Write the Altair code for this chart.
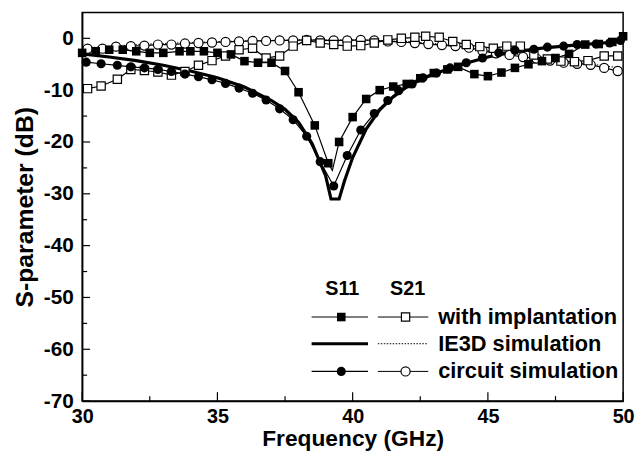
import altair as alt
import pandas as pd

# ---------------- data ----------------
# S11, with implantation (filled squares)
s11_impl_x = [30.0, 30.5, 31.0, 31.5, 32.0, 32.5, 33.0, 33.6, 34.0, 34.5, 35.0, 35.5,
              36.0, 36.5, 37.0, 37.5, 38.0, 38.6, 39.1, 39.25, 39.5, 40.0, 40.5, 41.0,
              41.5, 42.0, 42.5, 43.0, 43.5, 43.9, 44.5, 45.0, 45.5, 46.0, 46.5, 47.0,
              47.5, 48.0, 48.6, 49.1, 49.6, 50.0]
s11_impl_y = [-2.8, -2.5, -2.2, -2.2, -2.5, -2.8, -2.8, -2.5, -2.5, -2.5, -2.8, -3.1,
              -4.4, -4.7, -4.7, -6.3, -10.4, -16.8, -24.1, -25.5, -20.0, -15.2, -11.7, -10.0,
              -9.3, -8.8, -7.7, -6.7, -6.0, -5.5, -6.9, -7.3, -6.6, -5.7, -5.0, -4.4,
              -3.8, -3.0, -1.2, -1.1, -0.7, 0.4]
s11_impl_nomarker = [39.25]

# S21, with implantation (open squares)
s21_impl_x = [30.2, 30.7, 31.3, 31.8, 32.3, 32.8, 33.3, 33.8, 34.3, 34.8, 35.3, 35.8,
              36.3, 36.8, 37.3, 37.8, 38.3, 38.8, 39.3, 39.8, 40.3, 40.8, 41.3, 41.8,
              42.3, 42.7, 43.2, 43.7, 44.2, 44.7, 45.2, 45.7, 46.2, 46.7, 47.2, 47.7,
              48.2, 48.7, 49.3, 49.8]
s21_impl_y = [-9.7, -9.2, -7.9, -6.0, -6.2, -6.5, -7.1, -6.4, -5.2, -4.3, -3.4, -2.2,
              -1.9, -3.8, -3.4, -1.5, -0.4, -0.9, -1.2, -1.5, -1.4, -0.9, -0.3, 0.0,
              0.2, 0.4, 0.2, -0.6, -1.2, -1.6, -1.9, -1.5, -1.5, -3.2, -4.0, -4.4,
              -4.5, -4.3, -3.4, -3.4]

# S11, IE3D simulation (thick line)
s11_ie3d_x = [30.0, 31.0, 32.0, 33.0, 34.0, 35.0, 36.0, 37.0, 37.5, 38.0, 38.5, 39.0,
              39.2, 39.5, 39.7, 40.0, 40.5, 41.0, 41.5, 42.0, 42.5, 43.0, 44.0, 45.0,
              46.0, 47.0, 48.0, 49.0, 50.0]
s11_ie3d_y = [-3.0, -3.6, -4.3, -5.2, -6.3, -7.6, -9.4, -12.0, -13.7, -16.2, -20.3, -26.5,
              -31.0, -31.0, -27.5, -23.0, -17.5, -13.8, -11.3, -9.4, -8.0, -6.9, -5.1, -3.6,
              -2.6, -1.9, -1.4, -1.0, -0.6]

# S21, IE3D simulation (dotted line)
s21_ie3d_x = [30.0, 32.0, 34.0, 36.0, 38.0, 40.0, 42.0, 43.0, 44.0, 45.0, 46.0, 47.0,
              48.0, 49.0, 50.0]
s21_ie3d_y = [-1.9, -1.2, -0.8, -0.5, -0.3, -0.3, -0.6, -1.0, -1.6, -2.4, -3.1, -3.8,
              -4.5, -5.1, -5.8]

# S11, circuit simulation (filled circles)
s11_circ_x = [30.15, 30.7, 31.3, 31.8, 32.3, 32.8, 33.3, 33.8, 34.3, 34.8, 35.3, 35.8,
              36.3, 36.8, 37.3, 37.8, 38.3, 38.8, 39.3, 39.8, 40.3, 40.8, 41.3, 41.7,
              42.2, 42.6, 43.1, 43.6, 44.2, 44.8, 45.4, 46.0, 46.7, 47.2, 47.8, 48.3,
              49.0, 49.5, 49.9]
s11_circ_y = [-4.6, -4.9, -5.2, -5.5, -5.7, -6.0, -6.4, -6.9, -7.4, -8.0, -8.7, -9.6,
              -10.6, -11.9, -13.6, -15.7, -18.9, -23.8, -28.5, -22.6, -17.7, -14.5, -12.0, -10.1,
              -8.8, -7.6, -6.7, -5.7, -4.7, -3.8, -2.8, -2.3, -2.1, -1.7, -1.5, -1.2,
              -1.1, -0.9, -0.4]

# S21, circuit simulation (open circles)
s21_circ_x = [30.2, 30.75, 31.25, 31.8, 32.3, 32.8, 33.3, 33.8, 34.3, 34.8, 35.3, 35.8,
              36.3, 36.8, 37.3, 37.8, 38.3, 38.8, 39.3, 39.8, 40.3, 40.8, 41.3, 41.8,
              42.3, 42.8, 43.3, 43.8, 44.3, 44.8, 45.3, 45.8, 46.3, 46.8, 47.3, 47.8,
              48.3, 48.8, 49.3, 49.8]
s21_circ_y = [-2.0, -2.0, -1.6, -1.5, -1.4, -1.2, -1.2, -1.0, -0.9, -0.8, -0.7, -0.6,
              -0.5, -0.5, -0.4, -0.4, -0.3, -0.4, -0.4, -0.4, -0.3, -0.4, -0.6, -0.7,
              -0.9, -1.1, -1.3, -1.5, -1.8, -2.4, -2.9, -3.2, -3.6, -3.9, -4.3, -4.7,
              -4.9, -5.1, -5.7, -6.3]

x_ticks_major = [30, 35, 40, 45, 50]
x_ticks_minor = [32.5, 37.5, 42.5, 47.5]
y_ticks_major = [0, -10, -20, -30, -40, -50, -60, -70]
y_ticks_minor = [-5, -15, -25, -35, -45, -55, -65]

legend_header = ["S11", "S21"]
legend_rows = ["with implantation", "IE3D simulation", "circuit simulation"]

# ---------------- layout ----------------
W, H = 547, 393
FONT = "Liberation Sans"

xs = alt.Scale(domain=[30, 50], nice=False, zero=False)
ys = alt.Scale(domain=[-70, 5], nice=False, zero=False)

xax = alt.Axis(values=x_ticks_major, title="Frequency (GHz)", ticks=False, grid=False,
               labelFont=FONT, labelFontSize=20, labelFontWeight="bold", labelColor="black",
               labelPadding=6, labelFlush=False, titleFont=FONT, titleFontSize=23,
               titleFontWeight="bold", titleColor="black", titlePadding=1,
               domainColor="black", domainWidth=1.5, labelExpr="'' + datum.value")
yax = alt.Axis(values=y_ticks_major, title="S-parameter (dB)", ticks=False, grid=False,
               labelFont=FONT, labelFontSize=21, labelFontWeight="bold", labelColor="black",
               labelPadding=9, labelFlush=False, titleFont=FONT, titleFontSize=25,
               titleFontWeight="bold", titleColor="black", titlePadding=6,
               domainColor="black", domainWidth=1.5, labelExpr="'' + datum.value")


def df_of(xv, yv):
    return pd.DataFrame({"f": xv, "s": yv})


def X():
    return alt.X("f:Q", scale=xs, axis=xax)


def Y():
    return alt.Y("s:Q", scale=ys, axis=yax)


layers = []

# inward ticks
layers.append(alt.Chart(pd.DataFrame({"f": x_ticks_major})).mark_rule(color="black", strokeWidth=1.2)
              .encode(x=X(), y=alt.value(H), y2=alt.value(H - 9)))
layers.append(alt.Chart(pd.DataFrame({"f": x_ticks_minor})).mark_rule(color="black", strokeWidth=1.2)
              .encode(x=X(), y=alt.value(H), y2=alt.value(H - 5)))
layers.append(alt.Chart(pd.DataFrame({"s": y_ticks_major})).mark_rule(color="black", strokeWidth=1.2)
              .encode(y=Y(), x=alt.value(0), x2=alt.value(8)))
layers.append(alt.Chart(pd.DataFrame({"s": y_ticks_minor})).mark_rule(color="black", strokeWidth=1.2)
              .encode(y=Y(), x=alt.value(0), x2=alt.value(5)))

# lines
layers.append(alt.Chart(df_of(s11_ie3d_x, s11_ie3d_y)).mark_line(color="black", strokeWidth=3.2)
              .encode(x=X(), y=Y()))
layers.append(alt.Chart(df_of(s21_ie3d_x, s21_ie3d_y)).mark_line(color="black", strokeWidth=1, strokeDash=[1.5, 1.5])
              .encode(x=X(), y=Y()))
for xv, yv in [(s21_circ_x, s21_circ_y), (s21_impl_x, s21_impl_y),
               (s11_impl_x, s11_impl_y), (s11_circ_x, s11_circ_y)]:
    layers.append(alt.Chart(df_of(xv, yv)).mark_line(color="black", strokeWidth=1.2)
                  .encode(x=X(), y=Y()))

# markers
layers.append(alt.Chart(df_of(s21_circ_x, s21_circ_y)).mark_point(
    shape="circle", filled=True, fill="white", stroke="black", strokeWidth=1.2, size=85, opacity=1)
    .encode(x=X(), y=Y()))
layers.append(alt.Chart(df_of(s21_impl_x, s21_impl_y)).mark_point(
    shape="square", filled=True, fill="white", stroke="black", strokeWidth=1.2, size=70, opacity=1)
    .encode(x=X(), y=Y()))
impl_df = df_of(s11_impl_x, s11_impl_y)
impl_df = impl_df[~impl_df["f"].isin(s11_impl_nomarker)]
layers.append(alt.Chart(impl_df).mark_point(
    shape="square", filled=True, color="black", size=75, opacity=1)
    .encode(x=X(), y=Y()))
layers.append(alt.Chart(df_of(s11_circ_x, s11_circ_y)).mark_point(
    shape="circle", filled=True, color="black", size=85, opacity=1)
    .encode(x=X(), y=Y()))

# ---------------- custom legend ----------------
one = pd.DataFrame({"a": [0]})
col_x = [263, 329]
row_y = [308, 335, 363]
head_y = 280
seg = [(232, 289), (299, 350)]
text_x = 360

for cx, lab in zip(col_x, legend_header):
    layers.append(alt.Chart(one).mark_text(font=FONT, fontSize=20, fontWeight="bold", color="black",
                                           align="center", baseline="middle")
                  .encode(x=alt.value(cx), y=alt.value(head_y), text=alt.value(lab)))
for ry, lab in zip(row_y, legend_rows):
    layers.append(alt.Chart(one).mark_text(font=FONT, fontSize=22, fontWeight="bold", color="black",
                                           align="left", baseline="middle")
                  .encode(x=alt.value(text_x), y=alt.value(ry), text=alt.value(lab)))

# legend line segments
styles = [
    [dict(strokeWidth=1.2), dict(strokeWidth=1.0)],
    [dict(strokeWidth=3.2), dict(strokeWidth=1.0, strokeDash=[1.5, 1.5])],
    [dict(strokeWidth=1.2), dict(strokeWidth=1.0)],
]
for ri, ry in enumerate(row_y):
    for ci, (a, b) in enumerate(seg):
        layers.append(alt.Chart(one).mark_rule(color="black", **styles[ri][ci])
                      .encode(x=alt.value(a), x2=alt.value(b), y=alt.value(ry)))

# legend markers
layers.append(alt.Chart(one).mark_point(shape="square", filled=True, color="black", size=75, opacity=1)
              .encode(x=alt.value(col_x[0] - 1), y=alt.value(row_y[0])))
layers.append(alt.Chart(one).mark_point(shape="square", filled=True, fill="white", stroke="black",
                                        strokeWidth=1.2, size=70, opacity=1)
              .encode(x=alt.value(col_x[1] - 2), y=alt.value(row_y[0])))
layers.append(alt.Chart(one).mark_point(shape="circle", filled=True, color="black", size=85, opacity=1)
              .encode(x=alt.value(col_x[0] - 1), y=alt.value(row_y[2])))
layers.append(alt.Chart(one).mark_point(shape="circle", filled=True, fill="white", stroke="black",
                                        strokeWidth=1.2, size=85, opacity=1)
              .encode(x=alt.value(col_x[1] - 2), y=alt.value(row_y[2])))

chart = alt.layer(*layers).properties(
    width=W, height=H,
    autosize=alt.AutoSizeParams(type="none"),
    padding={"left": 75, "top": 2, "right": 12, "bottom": 49},
    background="white",
).configure_view(stroke="black", strokeWidth=1.5)

chart.save("out.html", embed_options={"renderer": "svg", "actions": False})
